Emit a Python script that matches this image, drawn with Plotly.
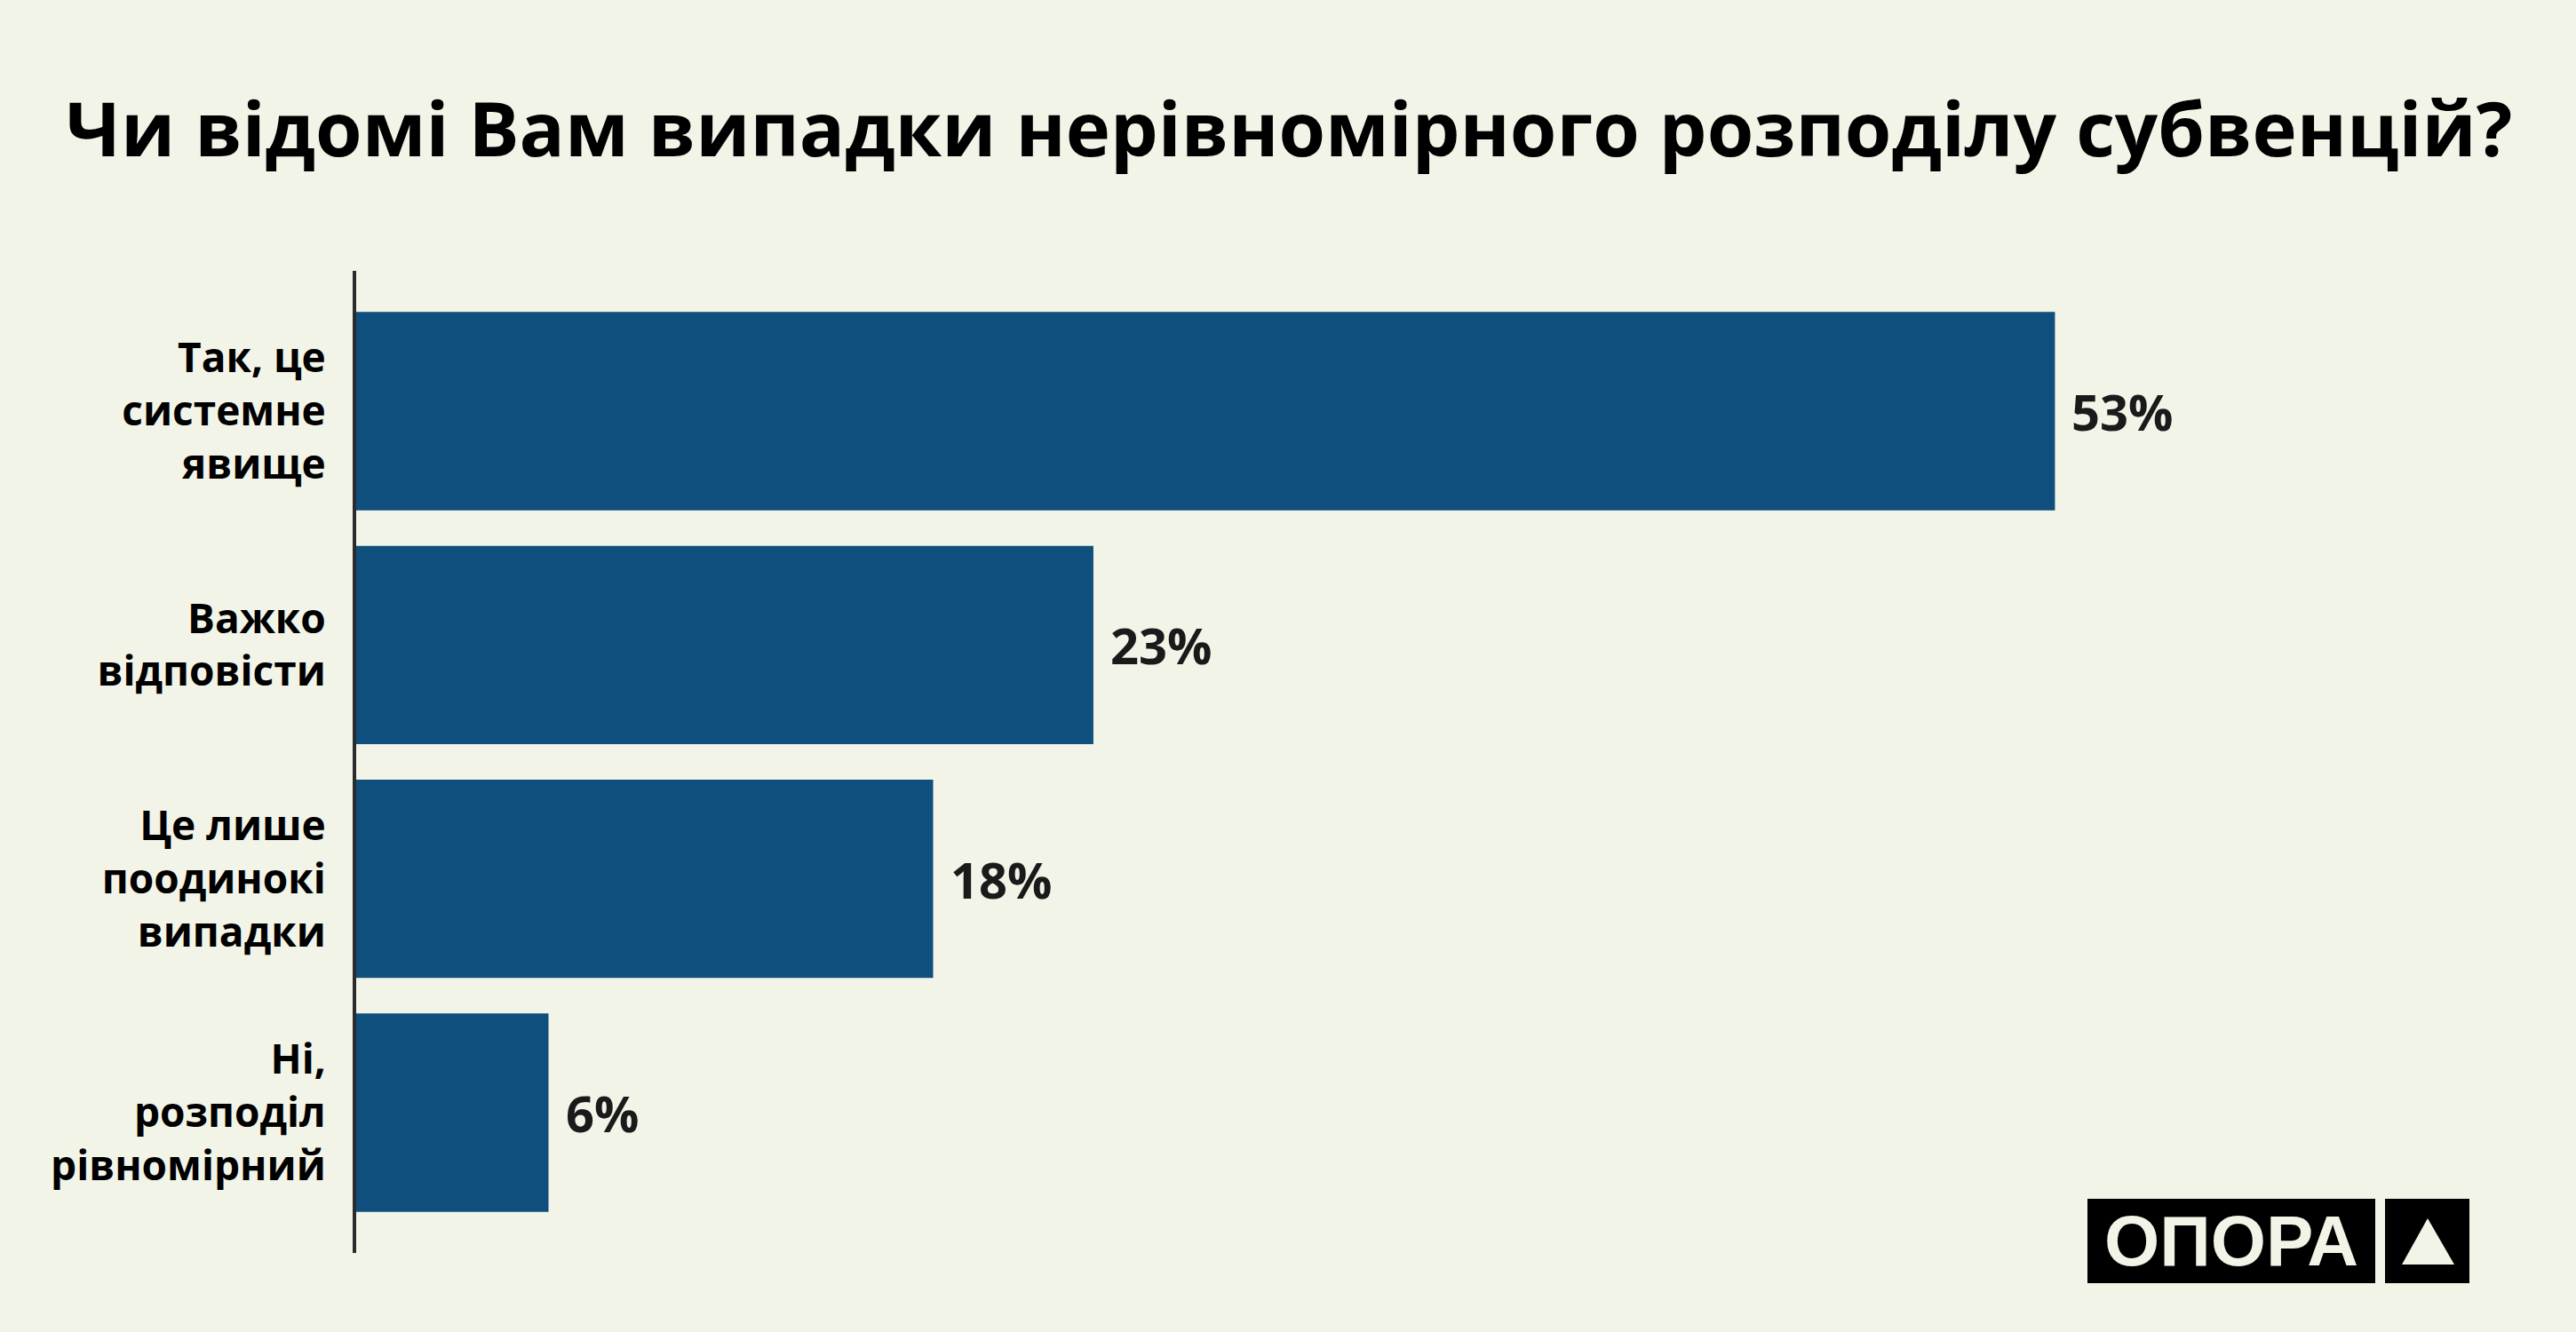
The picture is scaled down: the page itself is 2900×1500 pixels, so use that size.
import plotly.graph_objects as go

categories = ["Так, це<br>системне<br>явище", "Важко<br>відповісти",
              "Це лише<br>поодинокі<br>випадки", "Ні,<br>розподіл<br>рівномірний"]
values = [53, 23, 18, 6]
value_labels = ["53%", "23%", "18%", "6%"]
title_text = "Чи відомі Вам випадки нерівномірного розподілу субвенцій?"
logo_text = "ОПОРА"

BG = "#F2F4E8"
BAR = "#0E4F7E"
W, H = 2900, 1500
ML, MR, MT, MB = 401, 334, 305, 89
PW, PH = W - ML - MR, H - MT - MB


def px(x):
    return (x - ML) / PW


def py(y):
    return (H - MB - y) / PH


fig = go.Figure()
fig.add_trace(go.Bar(
    x=values, y=categories, orientation="h",
    marker=dict(color=BAR, line=dict(width=0)),
    hoverinfo="skip",
))

for v, c, t in zip(values, categories, value_labels):
    fig.add_annotation(x=v, y=c, text=t, showarrow=False, xanchor="left",
                       xshift=17, yshift=0,
                       font=dict(family="Open Sans", size=56, weight=700, color="#1a1a1a"))

# logo
fig.add_shape(type="rect", xref="paper", yref="paper",
              x0=px(2350), x1=px(2674), y0=py(1445), y1=py(1350),
              fillcolor="black", line=dict(width=0), layer="above")
fig.add_shape(type="rect", xref="paper", yref="paper",
              x0=px(2685), x1=px(2780), y0=py(1445), y1=py(1350),
              fillcolor="black", line=dict(width=0), layer="above")
fig.add_shape(type="path", xref="paper", yref="paper",
              path=f"M {px(2733)} {py(1372)} L {px(2763)} {py(1424)} L {px(2704)} {py(1424)} Z",
              fillcolor=BG, line=dict(width=0), layer="above")
fig.add_annotation(xref="paper", yref="paper", x=px(2512), y=py(1397), text=logo_text,
                   showarrow=False, xanchor="center", yanchor="middle",
                   font=dict(family="Liberation Sans", size=80, weight=700, color=BG))

fig.update_layout(
    width=W, height=H,
    margin=dict(l=ML, r=MR, t=MT, b=MB, pad=0),
    paper_bgcolor=BG, plot_bgcolor=BG,
    bargap=0.152,
    showlegend=False,
    title=dict(text=title_text, x=74 / W, xanchor="left", xref="container",
               y=1 - 146 / H, yanchor="middle", yref="container",
               font=dict(family="Open Sans", size=85, weight=700, color="black")),
    xaxis=dict(range=[0, 60], visible=False, showgrid=False, zeroline=False),
    yaxis=dict(range=[3.6, -0.6], showgrid=False, zeroline=False,
               showline=True, linecolor="#2b2b2b", linewidth=4,
               ticks="", ticklabelstandoff=21,
               tickfont=dict(family="Open Sans", size=46, weight=700, color="black")),
)

fig.write_html("out.html", config={"displayModeBar": False},
               post_script="document.body.style.margin='0';"
                           "document.body.style.background='" + BG + "';")
